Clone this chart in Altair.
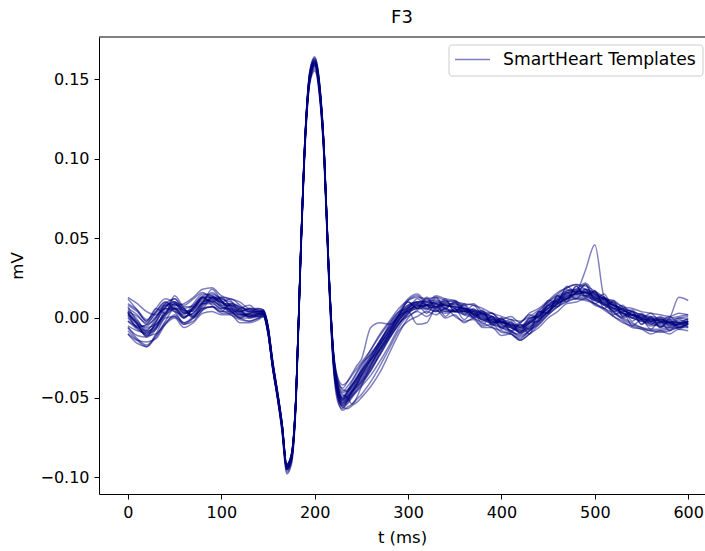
import altair as alt
import pandas as pd

# time grid (ms)
times = [0, 10, 20, 30, 40, 50, 60, 70, 80, 90, 100, 110, 120, 130, 140,
         145, 150, 155, 160, 165, 170, 175, 180, 185, 190, 195, 200, 205, 210, 215, 220, 225, 230, 235, 240, 245,
         250, 260, 270, 280, 290, 300, 310, 320, 330, 340, 350, 360, 370, 380, 390, 400, 410, 420, 430, 440,
         450, 460, 470, 480, 490, 500, 510, 520, 530, 540, 550, 560, 570, 580, 590, 600]

t01 = [0.003, -0.002, -0.007, -0.002, 0.007, 0.010, 0.004, 0.006, 0.013, 0.014, 0.010, 0.008, 0.005, 0.004, 0.004,
       0.004, -0.006, -0.028, -0.047, -0.067, -0.093, -0.087, -0.049, 0.041, 0.116, 0.154, 0.162, 0.147, 0.106, 0.031, -0.024, -0.045, -0.050, -0.047, -0.043, -0.039,
       -0.035, -0.026, -0.016, -0.007, 0.001, 0.010, 0.006, 0.013, 0.007, 0.012, 0.004, 0.008, 0.000, 0.004, -0.005, -0.001, -0.009, -0.004, -0.007, 0.004,
       0.003, 0.014, 0.012, 0.020, 0.014, 0.017, 0.008, 0.010, 0.001, 0.004, -0.004, 0.001, -0.006, -0.001, -0.006, -0.002]
t02 = [-0.010, -0.016, -0.018, -0.010, 0.000, 0.001, -0.004, 0.000, 0.006, 0.007, 0.004, 0.004, 0.000, 0.000, 0.001,
       0.002, -0.009, -0.031, -0.049, -0.070, -0.096, -0.090, -0.052, 0.038, 0.113, 0.150, 0.158, 0.143, 0.103, 0.028, -0.028, -0.050, -0.056, -0.054, -0.050, -0.046,
       -0.042, -0.033, -0.022, -0.012, -0.003, 0.001, 0.004, 0.001, 0.005, 0.000, 0.002, -0.003, 0.000, -0.005, -0.004, -0.009, -0.010, -0.013, -0.008, -0.004,
       0.002, 0.007, 0.010, 0.012, 0.011, 0.009, 0.005, 0.001, -0.003, -0.005, -0.007, -0.008, -0.009, -0.008, -0.006, -0.005]
t03 = [0.006, 0.002, -0.004, 0.000, 0.008, 0.009, 0.003, 0.005, 0.012, 0.013, 0.010, 0.006, 0.002, 0.001, 0.002,
       0.003, -0.007, -0.029, -0.047, -0.067, -0.093, -0.087, -0.050, 0.040, 0.114, 0.151, 0.159, 0.144, 0.104, 0.030, -0.022, -0.040, -0.044, -0.040, -0.035, -0.030,
       -0.026, -0.006, -0.003, -0.004, 0.001, 0.007, 0.010, 0.010, 0.009, 0.006, 0.004, 0.004, 0.005, 0.004, 0.001, -0.002, -0.004, -0.006, -0.002, 0.003,
       0.008, 0.013, 0.016, 0.017, 0.016, 0.013, 0.010, 0.006, 0.003, 0.002, 0.001, 0.000, -0.001, -0.002, -0.002, -0.001]
t04 = [0.012, 0.005, -0.002, 0.006, 0.003, 0.014, 0.006, 0.001, 0.009, 0.018, 0.011, 0.003, 0.006, 0.008, 0.004,
       0.005, -0.005, -0.027, -0.045, -0.066, -0.092, -0.086, -0.048, 0.042, 0.118, 0.156, 0.164, 0.149, 0.108, 0.033, -0.022, -0.043, -0.049, -0.046, -0.042, -0.038,
       -0.034, -0.025, -0.015, -0.006, 0.002, 0.011, 0.014, 0.008, 0.004, 0.010, 0.011, 0.005, 0.001, 0.003, -0.003, 0.000, -0.005, -0.003, 0.002, 0.000,
       0.008, 0.010, 0.017, 0.018, 0.022, 0.015, 0.012, 0.009, 0.004, 0.005, 0.000, 0.003, -0.002, 0.001, -0.003, 0.000]
t05 = [-0.006, -0.013, -0.017, -0.011, -0.004, 0.000, -0.006, -0.003, 0.003, 0.004, 0.002, 0.002, -0.003, -0.003, -0.001,
       0.001, -0.010, -0.032, -0.050, -0.071, -0.097, -0.091, -0.053, 0.037, 0.112, 0.149, 0.156, 0.141, 0.101, 0.026, -0.030, -0.052, -0.058, -0.056, -0.054, -0.051,
       -0.048, -0.040, -0.030, -0.019, -0.008, -0.002, 0.001, 0.004, 0.002, 0.006, 0.001, -0.002, -0.001, -0.006, -0.006, -0.011, -0.010, -0.014, -0.010, -0.006,
       0.000, 0.004, 0.009, 0.010, 0.012, 0.008, 0.006, 0.001, -0.002, -0.006, -0.007, -0.010, -0.008, -0.010, -0.007, -0.008]
t06 = [0.002, -0.004, -0.008, -0.005, 0.004, 0.009, 0.003, 0.005, 0.010, 0.011, 0.008, 0.008, 0.006, 0.004, 0.003,
       0.003, -0.008, -0.030, -0.048, -0.068, -0.094, -0.088, -0.050, 0.040, 0.115, 0.152, 0.160, 0.146, 0.106, 0.031, -0.024, -0.046, -0.053, -0.050, -0.046, -0.042,
       -0.038, -0.029, -0.019, -0.010, -0.001, 0.005, 0.007, 0.008, 0.009, 0.008, 0.007, 0.005, 0.003, 0.001, -0.002, -0.004, -0.006, -0.008, -0.005, 0.000,
       0.005, 0.010, 0.013, 0.016, 0.030, 0.046, 0.013, 0.008, 0.005, 0.002, 0.000, -0.002, -0.003, -0.003, -0.003, -0.002]
t07 = [0.009, 0.005, -0.001, 0.004, 0.010, 0.008, 0.009, 0.013, 0.018, 0.019, 0.014, 0.012, 0.010, 0.006, 0.006,
       0.005, -0.005, -0.027, -0.046, -0.066, -0.092, -0.086, -0.048, 0.042, 0.117, 0.153, 0.161, 0.146, 0.106, 0.032, -0.020, -0.038, -0.042, -0.040, -0.036, -0.032,
       -0.028, -0.020, -0.011, -0.003, 0.004, 0.012, 0.015, 0.010, 0.014, 0.012, 0.011, 0.008, 0.009, 0.004, 0.003, -0.001, 0.001, -0.003, 0.003, 0.006,
       0.011, 0.016, 0.019, 0.021, 0.018, 0.016, 0.012, 0.011, 0.007, 0.006, 0.004, 0.003, 0.002, 0.001, 0.003, 0.002]
t08 = [-0.002, -0.007, -0.010, -0.003, 0.006, 0.006, 0.000, 0.006, 0.012, 0.010, 0.006, 0.008, 0.005, 0.001, 0.002,
       0.002, -0.009, -0.031, -0.049, -0.069, -0.095, -0.089, -0.051, 0.039, 0.114, 0.151, 0.159, 0.144, 0.104, 0.029, -0.026, -0.047, -0.054, -0.051, -0.047, -0.043,
       -0.039, -0.030, -0.020, -0.011, -0.002, 0.004, 0.006, 0.008, 0.007, 0.004, 0.005, 0.006, 0.002, -0.001, -0.003, -0.002, -0.005, -0.009, -0.004, 0.002,
       0.006, 0.010, 0.014, 0.015, 0.014, 0.011, 0.009, 0.004, 0.000, 0.002, -0.001, -0.005, -0.003, 0.000, 0.013, 0.011]
t09 = [0.000, -0.006, -0.011, -0.006, 0.003, 0.007, 0.001, 0.003, 0.010, 0.012, 0.010, 0.007, 0.004, 0.003, 0.003,
       0.003, -0.008, -0.030, -0.048, -0.068, -0.094, -0.088, -0.050, 0.040, 0.115, 0.152, 0.160, 0.145, 0.105, 0.030, -0.025, -0.046, -0.052, -0.049, -0.045, -0.041,
       -0.036, -0.027, -0.017, -0.008, 0.001, 0.004, -0.004, -0.003, 0.007, 0.008, 0.006, 0.004, 0.004, 0.003, 0.000, -0.004, -0.008, -0.012, -0.008, -0.002,
       0.004, 0.009, 0.013, 0.015, 0.016, 0.014, 0.012, 0.008, 0.003, 0.000, -0.002, -0.003, -0.004, -0.004, -0.005, -0.004]
t10 = [0.007, -0.003, -0.012, -0.007, 0.006, 0.012, 0.004, 0.002, 0.010, 0.016, 0.011, 0.005, 0.001, 0.002, 0.003,
       0.004, -0.007, -0.029, -0.047, -0.067, -0.093, -0.087, -0.049, 0.041, 0.116, 0.154, 0.162, 0.147, 0.107, 0.032, -0.023, -0.044, -0.051, -0.049, -0.046, -0.043,
       -0.040, -0.032, -0.023, -0.013, -0.004, 0.003, 0.009, 0.005, 0.012, 0.006, 0.010, 0.002, 0.006, -0.002, 0.001, -0.006, -0.003, -0.009, 0.000, 0.001,
       0.011, 0.010, 0.020, 0.016, 0.021, 0.011, 0.013, 0.004, 0.006, -0.002, 0.002, -0.004, 0.000, -0.005, -0.001, -0.004]
t11 = [0.002, -0.003, -0.006, -0.004, 0.002, 0.006, 0.003, 0.006, 0.011, 0.011, 0.007, 0.005, 0.003, 0.002, 0.001,
       0.001, -0.009, -0.031, -0.049, -0.069, -0.095, -0.089, -0.051, 0.039, 0.114, 0.151, 0.159, 0.144, 0.104, 0.029, -0.027, -0.049, -0.055, -0.052, -0.048, -0.044,
       -0.040, -0.031, -0.021, -0.011, -0.002, 0.005, 0.008, 0.007, 0.006, 0.004, 0.004, 0.003, 0.001, -0.001, -0.004, -0.006, -0.008, -0.011, -0.008, -0.003,
       0.003, 0.008, 0.012, 0.014, 0.014, 0.012, 0.008, 0.004, 0.000, -0.003, -0.006, -0.008, -0.008, -0.007, -0.006, -0.004]
t12 = [0.004, -0.006, -0.004, 0.004, 0.010, 0.005, 0.000, 0.007, 0.013, 0.010, 0.013, 0.011, 0.004, 0.006, 0.003,
       0.003, -0.007, -0.029, -0.048, -0.068, -0.094, -0.088, -0.050, 0.040, 0.115, 0.152, 0.160, 0.145, 0.105, 0.031, -0.024, -0.045, -0.051, -0.048, -0.044, -0.040,
       -0.036, -0.027, -0.017, -0.008, 0.001, 0.007, 0.009, 0.009, 0.010, 0.008, 0.007, 0.006, 0.005, 0.003, 0.000, -0.002, -0.004, -0.005, -0.001, 0.004,
       0.010, 0.015, 0.019, 0.021, 0.020, 0.017, 0.013, 0.009, 0.005, 0.002, 0.000, -0.001, -0.002, -0.003, -0.004, -0.003]
t13 = [0.003, -0.004, -0.010, -0.007, 0.001, 0.006, 0.001, 0.003, 0.009, 0.010, 0.007, 0.004, 0.002, 0.002, 0.002,
       0.002, -0.008, -0.030, -0.048, -0.068, -0.094, -0.088, -0.050, 0.040, 0.115, 0.152, 0.160, 0.145, 0.104, 0.029, -0.026, -0.044, -0.048, -0.050, -0.054, -0.050,
       -0.043, -0.030, -0.019, -0.010, -0.001, 0.005, 0.007, 0.008, 0.008, 0.006, 0.005, 0.005, 0.004, 0.002, -0.001, -0.003, -0.005, -0.007, -0.003, 0.002,
       0.007, 0.012, 0.015, 0.016, 0.015, 0.012, 0.009, 0.006, 0.003, 0.001, -0.001, -0.002, -0.003, -0.003, -0.003, -0.002]
t14 = [-0.006, -0.011, -0.012, -0.002, 0.008, 0.004, -0.003, 0.001, 0.008, 0.013, 0.011, 0.004, 0.000, 0.003, 0.004,
       0.004, -0.006, -0.028, -0.047, -0.067, -0.093, -0.087, -0.049, 0.041, 0.116, 0.153, 0.161, 0.146, 0.106, 0.031, -0.023, -0.045, -0.052, -0.050, -0.046, -0.042,
       -0.037, -0.029, -0.019, -0.010, -0.001, 0.006, 0.009, 0.008, 0.007, 0.009, 0.009, 0.006, 0.003, 0.000, -0.002, -0.003, -0.004, -0.006, -0.003, 0.001,
       0.006, 0.011, 0.014, 0.015, 0.016, 0.013, 0.009, 0.006, 0.005, 0.002, -0.001, -0.001, -0.002, -0.004, -0.004, -0.003]
t15 = [0.004, 0.001, -0.003, 0.003, 0.009, 0.012, 0.007, 0.007, 0.013, 0.013, 0.009, 0.009, 0.007, 0.005, 0.004,
       0.004, -0.006, -0.028, -0.046, -0.066, -0.092, -0.086, -0.048, 0.042, 0.117, 0.155, 0.163, 0.148, 0.107, 0.032, -0.022, -0.042, -0.047, -0.045, -0.042, -0.038,
       -0.033, -0.024, -0.014, -0.005, 0.003, 0.008, 0.010, 0.010, 0.009, 0.008, 0.007, 0.006, 0.005, 0.003, 0.001, -0.001, -0.003, -0.005, -0.002, 0.003,
       0.008, 0.012, 0.016, 0.017, 0.016, 0.013, 0.011, 0.008, 0.006, 0.004, 0.002, 0.000, -0.001, -0.001, 0.000, 0.001]
t16 = [-0.010, -0.014, -0.015, -0.013, -0.004, 0.002, -0.003, 0.000, 0.006, 0.007, 0.003, 0.003, 0.000, -0.002, 0.000,
       0.002, -0.009, -0.031, -0.049, -0.069, -0.095, -0.089, -0.051, 0.039, 0.113, 0.150, 0.157, 0.142, 0.102, 0.027, -0.028, -0.049, -0.055, -0.053, -0.049, -0.045,
       -0.041, -0.033, -0.023, -0.013, -0.004, 0.003, 0.006, 0.006, 0.007, 0.005, 0.004, 0.004, 0.002, 0.000, -0.003, -0.006, -0.009, -0.010, -0.006, -0.001,
       0.004, 0.009, 0.012, 0.013, 0.013, 0.011, 0.008, 0.005, 0.002, 0.000, -0.002, -0.004, -0.005, -0.005, -0.004, -0.003]
t17 = [0.008, 0.004, -0.002, 0.006, 0.012, 0.010, 0.008, 0.012, 0.016, 0.012, 0.010, 0.012, 0.008, 0.004, 0.006,
       0.005, -0.005, -0.027, -0.046, -0.066, -0.092, -0.086, -0.048, 0.042, 0.117, 0.154, 0.162, 0.147, 0.106, 0.031, -0.021, -0.039, -0.045, -0.046, -0.043, -0.038,
       -0.032, -0.022, -0.015, -0.004, 0.004, 0.006, 0.012, 0.008, 0.013, 0.007, 0.010, 0.004, 0.008, 0.002, 0.003, -0.003, -0.001, -0.006, 0.000, 0.001,
       0.009, 0.011, 0.018, 0.016, 0.021, 0.012, 0.015, 0.006, 0.008, 0.000, 0.003, -0.002, 0.001, -0.003, 0.000, -0.001]
t18 = [-0.008, -0.014, -0.018, -0.012, -0.003, 0.001, -0.004, -0.002, 0.005, 0.007, 0.005, 0.002, -0.001, -0.002, 0.000,
       0.001, -0.010, -0.032, -0.050, -0.071, -0.098, -0.092, -0.054, 0.036, 0.111, 0.148, 0.155, 0.140, 0.100, 0.025, -0.031, -0.053, -0.057, -0.052, -0.046, -0.040,
       -0.034, -0.024, -0.014, -0.006, 0.002, 0.008, 0.010, 0.008, 0.005, 0.003, 0.004, 0.002, 0.000, -0.003, -0.006, -0.008, -0.010, -0.014, -0.010, -0.004,
       0.002, 0.007, 0.011, 0.012, 0.012, 0.009, 0.006, 0.003, -0.001, -0.004, -0.006, -0.007, -0.007, -0.006, -0.004, -0.002]
t19 = [0.001, -0.006, -0.008, 0.000, 0.009, 0.006, 0.000, 0.007, 0.013, 0.008, 0.004, 0.009, 0.006, 0.000, 0.002,
       0.003, -0.007, -0.029, -0.047, -0.067, -0.093, -0.087, -0.049, 0.041, 0.115, 0.152, 0.160, 0.145, 0.105, 0.030, -0.025, -0.047, -0.053, -0.051, -0.047, -0.042,
       -0.036, -0.026, -0.017, -0.009, 0.002, 0.010, 0.006, 0.012, 0.006, 0.011, 0.004, 0.009, 0.002, 0.005, -0.004, 0.000, -0.008, -0.004, -0.010, 0.004,
       0.003, 0.014, 0.010, 0.020, 0.013, 0.017, 0.006, 0.011, 0.001, 0.004, -0.004, 0.000, -0.006, -0.002, -0.007, -0.003]
t20 = [0.005, -0.001, -0.009, -0.006, 0.002, 0.008, 0.006, 0.001, 0.007, 0.012, 0.012, 0.008, 0.003, 0.001, 0.003,
       0.003, -0.008, -0.030, -0.048, -0.068, -0.094, -0.088, -0.050, 0.040, 0.115, 0.151, 0.159, 0.144, 0.104, 0.029, -0.027, -0.050, -0.056, -0.057, -0.055, -0.053,
       -0.050, -0.043, -0.034, -0.022, -0.010, 0.000, 0.005, 0.008, 0.010, 0.009, 0.006, 0.004, 0.003, 0.001, -0.002, -0.005, -0.006, -0.008, -0.006, -0.001,
       0.004, 0.009, 0.012, 0.015, 0.016, 0.015, 0.012, 0.008, 0.005, 0.002, -0.001, -0.003, -0.005, -0.006, -0.006, -0.006]
t21 = [-0.002, -0.005, -0.005, 0.001, 0.006, 0.004, 0.002, 0.009, 0.015, 0.014, 0.008, 0.005, 0.004, 0.006, 0.005,
       0.004, -0.006, -0.028, -0.047, -0.067, -0.093, -0.087, -0.049, 0.041, 0.116, 0.153, 0.161, 0.146, 0.106, 0.031, -0.023, -0.044, -0.050, -0.046, -0.040, -0.035,
       -0.030, -0.020, -0.010, -0.002, 0.006, 0.011, 0.013, 0.012, 0.013, 0.011, 0.010, 0.009, 0.008, 0.006, 0.003, 0.001, -0.001, -0.002, 0.001, 0.005,
       0.010, 0.014, 0.017, 0.018, 0.018, 0.016, 0.013, 0.010, 0.007, 0.004, 0.002, 0.001, 0.000, 0.000, 0.001, 0.002]
t22 = [0.004, -0.004, -0.011, -0.010, -0.002, 0.006, 0.005, 0.000, 0.005, 0.013, 0.013, 0.007, 0.002, 0.003, 0.004,
       0.003, -0.008, -0.030, -0.048, -0.068, -0.094, -0.088, -0.050, 0.040, 0.115, 0.152, 0.160, 0.145, 0.105, 0.030, -0.025, -0.046, -0.051, -0.047, -0.042, -0.037,
       -0.033, -0.026, -0.020, -0.012, -0.004, 0.004, 0.008, 0.006, 0.004, 0.006, 0.009, 0.007, 0.002, -0.001, -0.001, -0.002, -0.006, -0.009, -0.007, -0.002,
       0.004, 0.009, 0.012, 0.016, 0.017, 0.014, 0.010, 0.008, 0.006, 0.003, 0.000, -0.002, -0.001, -0.003, -0.005, -0.004]
t23 = [-0.005, -0.008, -0.009, -0.004, 0.003, 0.009, 0.005, 0.004, 0.009, 0.009, 0.006, 0.006, 0.004, 0.001, 0.001,
       0.002, -0.009, -0.031, -0.049, -0.069, -0.095, -0.089, -0.051, 0.039, 0.114, 0.150, 0.158, 0.143, 0.103, 0.028, -0.027, -0.048, -0.054, -0.052, -0.049, -0.046,
       -0.043, -0.036, -0.027, -0.017, -0.006, 0.002, 0.008, 0.003, 0.009, 0.001, 0.006, -0.001, 0.004, -0.004, 0.001, -0.007, -0.002, -0.010, -0.003, -0.002,
       0.008, 0.007, 0.016, 0.012, 0.018, 0.009, 0.012, 0.002, 0.004, -0.005, -0.001, -0.007, -0.002, -0.008, -0.003, -0.006]
t24 = [0.013, 0.009, 0.004, 0.002, 0.007, 0.010, 0.006, 0.008, 0.014, 0.015, 0.012, 0.010, 0.007, 0.005, 0.005,
       0.004, -0.006, -0.028, -0.046, -0.066, -0.092, -0.086, -0.048, 0.042, 0.117, 0.155, 0.163, 0.148, 0.107, 0.032, -0.022, -0.041, -0.046, -0.043, -0.039, -0.034,
       -0.029, -0.023, -0.016, -0.008, 0.000, 0.006, 0.010, 0.011, 0.011, 0.010, 0.008, 0.006, 0.004, 0.002, -0.001, -0.003, -0.005, -0.007, -0.003, 0.001,
       0.006, 0.011, 0.015, 0.017, 0.017, 0.015, 0.011, 0.007, 0.003, 0.002, 0.001, -0.001, -0.002, -0.002, -0.003, -0.002]

templates = [t01, t02, t03, t04, t05, t06, t07, t08, t09, t10, t11, t12,
             t13, t14, t15, t16, t17, t18, t19, t20, t21, t22, t23, t24]

series_label = "SmartHeart Templates"
x_ticks = [0, 100, 200, 300, 400, 500, 600]
y_ticks = [-0.10, -0.05, 0.00, 0.05, 0.10, 0.15]

rows = []
for i, tpl in enumerate(templates):
    assert len(tpl) == len(times), (i, len(tpl))
    for t, v in zip(times, tpl):
        rows.append({"t": t, "v": v, "template": i})
df = pd.DataFrame(rows)

FONT = "DejaVu Sans"
NAVY = "#000080"
W, H = 606, 457

lines = alt.Chart(df).mark_line(
    interpolate="monotone", strokeWidth=1.5, opacity=0.5, color=NAVY
).encode(
    x=alt.X("t:Q", scale=alt.Scale(domain=[-31, 618], nice=False, zero=False),
            axis=alt.Axis(values=x_ticks, title="t (ms)", format="d")),
    y=alt.Y("v:Q", scale=alt.Scale(domain=[-0.1105, 0.1764], nice=False, zero=False),
            axis=alt.Axis(values=y_ticks, title="mV", format=".2f")),
    detail="template:N",
)

top = alt.Chart(pd.DataFrame({"a": [0]})).mark_rule(color="black", strokeWidth=1).encode(
    x=alt.value(0), x2=alt.value(W), y=alt.value(0)
)

# matplotlib-style legend box (upper right)
leg_df = pd.DataFrame({"label": [series_label]})
leg_box = alt.Chart(leg_df).mark_rect(
    fill="white", fillOpacity=0.8, stroke="#cccccc", strokeWidth=1, cornerRadius=3
).encode(x=alt.value(350), x2=alt.value(604), y=alt.value(8), y2=alt.value(39))
leg_line = alt.Chart(leg_df).mark_rule(color=NAVY, opacity=0.5, strokeWidth=1.5).encode(
    x=alt.value(356), x2=alt.value(391), y=alt.value(22.5)
)
leg_text = alt.Chart(leg_df).mark_text(
    align="left", baseline="middle", fontSize=17.2, font=FONT, color="black"
).encode(x=alt.value(404), y=alt.value(23), text="label:N")

chart = alt.layer(lines, top, leg_box, leg_line, leg_text).properties(
    width=W, height=H,
    title=alt.TitleParams("F3", fontSize=18, font=FONT, fontWeight="normal", offset=10, color="black"),
    autosize=alt.AutoSizeParams(type="none"),
    padding={"left": 99, "top": 37, "right": 0, "bottom": 57},
).configure_view(stroke=None).configure_axis(
    labelFont=FONT, labelFontSize=16, labelColor="black", titleFont=FONT, titleFontSize=16.5,
    titleFontWeight="normal", titleColor="black", domainColor="black", tickColor="black",
    tickSize=5, labelPadding=5, grid=False, domainWidth=1, tickWidth=1
).configure_axisY(titlePadding=14).configure_axisX(titlePadding=9)

chart.save("out.html", embed_options={"renderer": "svg", "actions": False})
